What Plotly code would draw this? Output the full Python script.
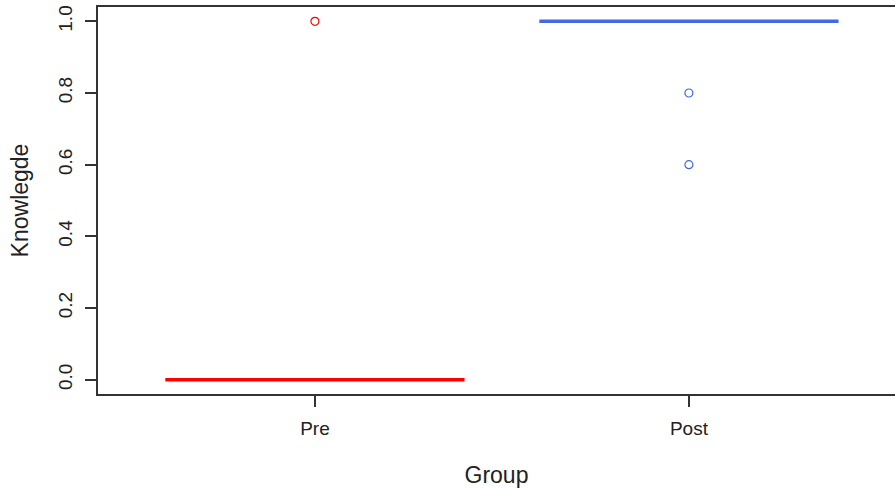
import plotly.graph_objects as go

groups = ["Pre", "Post"]
pre_values = [0, 0, 0, 0, 0, 0, 0, 0, 0, 0, 0, 0, 0, 0, 0, 0, 0, 0, 0, 1]
post_values = [1, 1, 1, 1, 1, 1, 1, 1, 1, 1, 1, 1, 1, 1, 1, 1, 1, 1, 0.8, 0.6]
colors = ["#FF0000", "#4169E1"]
y_ticks = [0.0, 0.2, 0.4, 0.6, 0.8, 1.0]
y_tick_labels = ["0.0", "0.2", "0.4", "0.6", "0.8", "1.0"]

font = "Liberation Sans, Arial, sans-serif"

fig = go.Figure()
for g, vals, c in zip(groups, [pre_values, post_values], colors):
    fig.add_trace(go.Box(
        x=[g] * len(vals), y=vals, name=g,
        boxpoints="outliers", jitter=0, pointpos=0,
        width=0.8, whiskerwidth=0,
        line=dict(color=c, width=3.5),
        fillcolor="rgba(0,0,0,0)",
        marker=dict(symbol="circle-open", size=8, color=c,
                    line=dict(color=c, width=1.2)),
        showlegend=False,
    ))

fig.update_layout(
    width=895, height=488,
    margin=dict(l=98, r=0, t=7, b=94),
    paper_bgcolor="white", plot_bgcolor="white",
    font=dict(family=font, size=19, color="#222"),
    xaxis=dict(
        type="category", categoryorder="array", categoryarray=groups,
        range=[-0.58, 1.551], automargin=False,
        showline=True, linecolor="#333", linewidth=1.5, mirror=True,
        ticks="outside", ticklen=11, tickwidth=1.5, tickcolor="#333",
        showgrid=False, zeroline=False,
        title=dict(text="Group", standoff=30),
        ticklabelstandoff=5,
    ),
    yaxis=dict(
        range=[-0.04, 1.04], automargin=False,
        tickvals=y_ticks, ticktext=y_tick_labels, tickangle=-90,
        showline=True, linecolor="#333", linewidth=1.5,
        ticks="outside", ticklen=11, tickwidth=1.5, tickcolor="#333",
        showgrid=False, zeroline=False,
        title=dict(text="Knowlegde", standoff=20),
        ticklabelstandoff=6,
    ),
)

fig.write_html("out.html", config={"displayModeBar": False},
               post_script="document.body.style.margin='0';document.body.style.overflow='hidden';")
